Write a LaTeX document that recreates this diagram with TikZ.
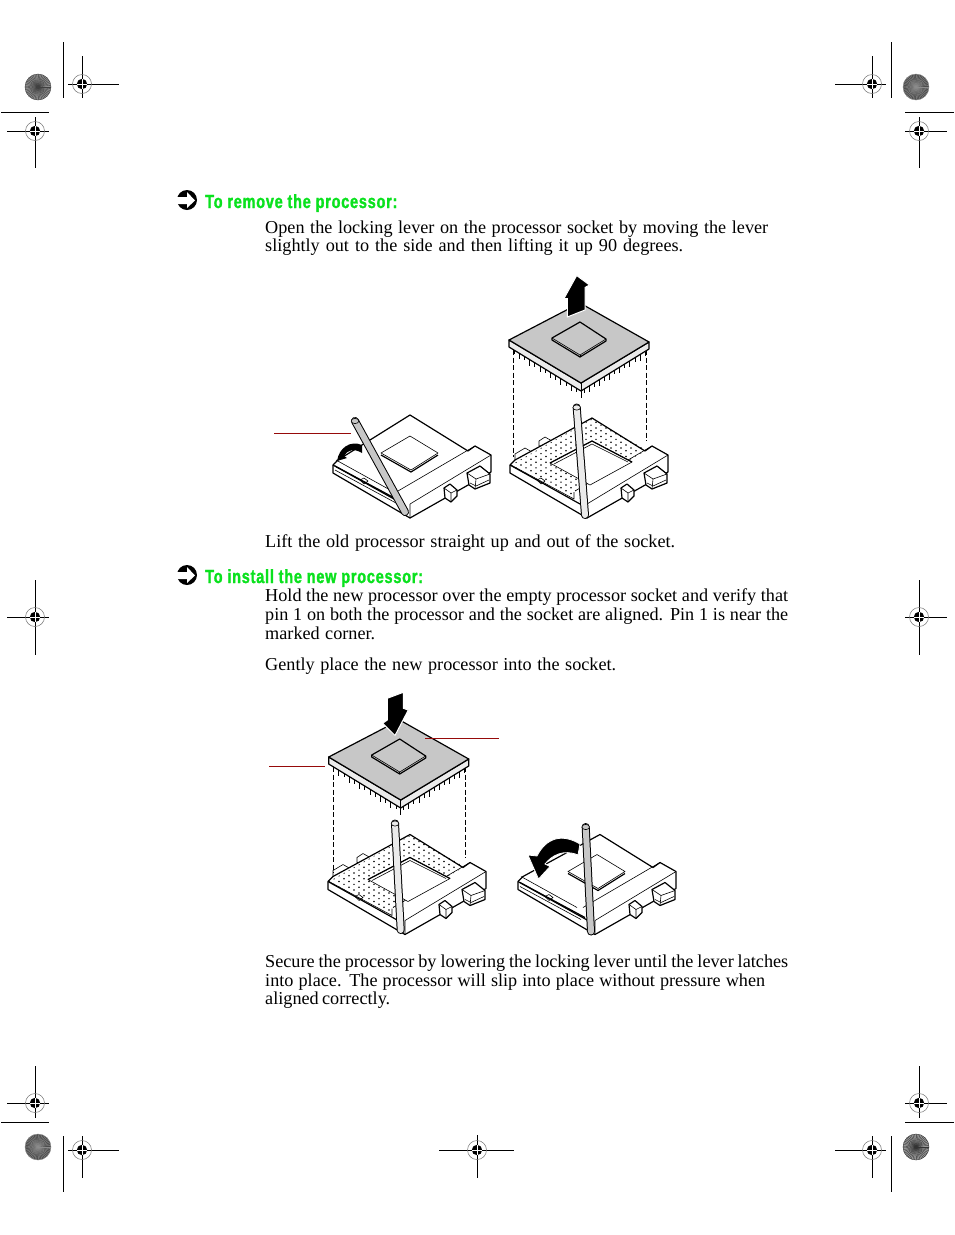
\documentclass[tikz,border=0pt]{standalone}
\usepackage{fontspec}
\setmainfont{Liberation Serif}
\newfontfamily\headfont[FakeStretch=0.76,LetterSpace=4.2,FakeBold=1.5]{Liberation Sans Bold}
\usepackage{xcolor}
\usetikzlibrary{positioning}
\definecolor{headgreen}{RGB}{10,225,30}
\definecolor{leadred}{RGB}{150,10,10}
\definecolor{platefill}{gray}{0.78}
\tikzstyle{bodyline} = [anchor=base west, inner sep=0pt, font=\fontsize{18.2}{18}\selectfont]
\tikzstyle{headline} = [anchor=base west, inner sep=0pt, text=headgreen, font=\headfont\fontsize{19}{18}\selectfont]
\tikzstyle{heavy} = [draw, line width=1.2pt, line join=round]
\tikzstyle{fine} = [draw, line width=0.6pt, line join=round]
\tikzstyle{pinline} = [draw, line width=0.9pt]
\tikzstyle{guide} = [draw, line width=0.7pt, dash pattern=on 5pt off 2.5pt]
\tikzstyle{leader} = [draw=leadred, line width=0.7pt]
\tikzstyle{cropline} = [draw, line width=0.9pt]
\tikzstyle{bigarrow} = [fill=black, draw=white, line width=1pt]
\tikzstyle{cogwheel} = [draw=black, line width=0.35pt]
\newcommand{\apex}{5,-100}
\tikzset{
  socketbody/.pic={
    \draw[heavy, fill=white] (-77,-53) -- (-77,-45) -- (0,0) -- (81,-46) -- (81,-63)
      -- (65,-72) -- (58,-67) -- (\apex) -- (-72,-58) -- cycle;
    \draw[fine] (0,-14) -- (81,-63) (0,-14) -- (0,0);
    \draw[fine] (-12,-27) -- (65,-72);
    \draw[heavy] (-77,-53) -- (-7,-14);
    \draw[fine] (-50,-38) -- (-46,-40) -- (-42,-37) -- (-46,-34) -- cycle;
    % Clips on the side
    \draw[heavy, fill=white] (34,-30) -- (40,-34) -- (47,-28) -- (47,-22) -- (41,-16) -- (35,-20) -- cycle;
    \draw[fine] (34,-30) -- (41,-25) -- (47,-28) (41,-25) -- (41,-16);
    \draw[heavy, fill=white] (57,-45) -- (70,-52) -- (80,-44) -- (80,-35) -- (65,-29) -- (59,-33) -- cycle;
    \draw[fine] (57,-45) -- (66,-39) -- (80,-44) (66,-39) -- (65,-29);
    \draw[fine] (60,-35) -- (66,-32) -- (79,-38);
  },
  backtabs/.pic={
    \draw[fine, fill=white] (-72,-56) -- (-72,-64) -- (-62,-70) -- (-55,-66) -- (-55,-60) -- cycle;
    \draw[fine, fill=white] (-48,-72) -- (-48,-77) -- (-42,-81) -- (-35,-77) -- (-35,-72) -- cycle;
  },
  holefield/.pic={
    \begin{scope}
      \clip (-76,-53) -- (5,-99) -- (60,-68) -- (-13,-26) -- (-13,-19) -- cycle;
      \foreach \i in {0,...,18} \foreach \j in {0,...,18}
        \fill ({-76+\i*5+\j*5},{-53-\i*2.85+\j*2.85}) circle (0.85pt);
    \end{scope}
    \draw[fine, fill=white] (5,-77) -- (45,-56) -- (3,-33) -- (-37,-55) -- cycle;
    \draw[heavy] (-37,-55) -- (5,-77) -- (45,-56);
    \draw[fine] (-33,-54) -- (5,-74) -- (41,-56);
    \draw[fine] (-76,-53) -- (-13,-19) -- (-13,-26);
  },
  plainstrip/.pic={
    \draw[fine] (-74,-58) -- (-18,-27);
    \draw[heavy] (-75,-52) -- (-10,-17);
    \draw[fine] (-75,-48) -- (-14,-15);
  },
  chipsquare/.pic={
    \draw[heavy] (-29,-63) -- (1,-46) -- (28,-63);
    \draw[fine, fill=white] (-29,-65) -- (0,-82) -- (28,-65) -- (1,-48) -- cycle;
  },
  cpuplate/.pic={
    % Pins below the two front edges
    \foreach \i in {0,...,12} {
      \draw[pinline] ({-67+\i*5.2},{-41+\i*3.2}) -- ++(0,{4+2*mod(\i,2)});
      \draw[pinline] ({3+\i*5.1},{-2-\i*3.1}) -- ++(0,{4+2*mod(\i,2)});
    }
    \draw[pinline] (0,0) -- (0,7);
    \draw[heavy, fill=black!8] (-72,-51) -- (-72,-44) -- (0,0) -- (68,-42) -- (68,-49) -- (0,-8) -- cycle;
    \draw[heavy, fill=platefill] (-72,-51) -- (-1,-88) -- (68,-49) -- (0,-8) -- cycle;
    \draw[fine] (0,-8) -- (0,0);
    % Small square on top
    \draw[heavy, fill=platefill] (-29,-51) -- (-1,-34) -- (25,-50) -- (25,-52) -- (-1,-69) -- (-29,-53) -- cycle;
    \draw[fine] (-29,-53) -- (-1,-36) -- (25,-52);
    \draw[fine] (-1,-36) -- (-1,-34);
  },
  regmark/.pic={
    \draw[line width=0.5pt, black!55] (0,0) circle (9.5pt);
    \fill (0,0) circle (5.2pt);
    \draw[white, line width=0.45pt] (-5.2,0) -- (5.2,0) (0,-5.2) -- (0,5.2);
  },
}
\newcommand{\leverbar}[5]{% top x, top y, bottom x, bottom y, colour
  \draw[line width=8pt, line cap=round] (#1,#2) -- (#3,#4);
  \draw[line width=6pt, #5, line cap=round] (#1,#2) -- (#3,#4);
  \draw[fine, fill=#5] (#1,#2) ellipse (3.8pt and 2.6pt);
}
\newcommand{\sunburst}[4]{% x, y, fill, ray colour
  \fill[#3] (#1,#2) circle (13pt);
  \foreach \a in {0,8,...,352}
    \draw[cogwheel, draw=#4] (#1,#2) -- ++(\a:13pt);
  \draw[line width=0.4pt, #4] (#1,#2) circle (13pt);
  \fill[#4] (#1,#2) circle (1.2pt);
}
\newcommand{\fitline}[2]{\makebox[#1pt][s]{#2}}
\begin{document}
\begin{tikzpicture}[x=1pt, y=-1pt]
  \useasboundingbox (0,0) rectangle (954,1235);
  % Place nodes
  \node [headline] (headremove) at (205,208) {To remove the processor:};
  \node [bodyline] (openlinea) at (265,233) {\fitline{503}{Open the locking lever on the processor socket by moving the lever}};
  \node [bodyline] (openlineb) at (265,251) {\fitline{418}{slightly out to the side and then lifting it up 90 degrees.}};
  \node [bodyline] (liftline) at (265,547) {\fitline{410}{Lift the old processor straight up and out of the socket.}};
  \node [headline] (headinstall) at (205,583) {To install the new processor:};
  \node [bodyline] (holdlinea) at (265,601) {\fitline{523}{Hold the new processor over the empty processor socket and verify that}};
  \node [bodyline] (holdlineb) at (265,620) {\fitline{523}{pin 1 on both the processor and the socket are aligned. Pin 1 is near the}};
  \node [bodyline] (holdlinec) at (265,639) {\fitline{110}{marked corner.}};
  \node [bodyline] (gentlyline) at (265,670) {\fitline{351}{Gently place the new processor into the socket.}};
  \node [bodyline] (securelinea) at (265,967) {\fitline{523}{Secure the processor by lowering the locking lever until the lever latches}};
  \node [bodyline] (securelineb) at (265,986) {\fitline{500}{into place. The processor will slip into place without pressure when}};
  \node [bodyline] (securelinec) at (265,1004) {\fitline{125}{aligned correctly.}};

  % Heading bullets
  \foreach \hy in {200,575} {
    \fill (187,\hy) circle (10pt);
    \fill[white] (177,\hy-3) -- (187,\hy-3) -- (187,\hy-8) -- (195,\hy+0.5) -- (187,\hy+8) -- (187,\hy+4) -- (177,\hy+4) -- cycle;
  }

  % Printer marks
  \foreach \cx/\cy/\xa/\xb/\ya/\yb in {82/84/68/119/56/98, 35/131/7/49/117/168,
      872/84/835/886/56/98, 919/131/905/947/117/168,
      35/617/7/49/580/655, 919/617/905/947/580/655,
      35/1103/7/49/1066/1118, 82/1150/68/119/1136/1178,
      919/1103/905/947/1066/1118, 872/1150/835/886/1136/1178,
      477/1150/439/514/1135/1178} {
    \draw[cropline] (\xa,\cy) -- (\xb,\cy);
    \draw[cropline] (\cx,\ya) -- (\cx,\yb);
    \pic at (\cx,\cy) {regmark};
  }
  \foreach \cx/\ya/\yb in {63/42/98, 891/42/98, 63/1136/1192, 891/1136/1192}
    \draw[cropline] (\cx,\ya) -- (\cx,\yb);
  \foreach \xa/\xb/\cy in {1/49/112, 905/954/112, 1/49/1122, 905/954/1122}
    \draw[cropline] (\xa,\cy) -- (\xb,\cy);
  \sunburst{38}{87}{black!45}{black!75}
  \sunburst{916}{87}{black!70}{black!45}
  \sunburst{38}{1147}{black!70}{black!45}
  \sunburst{916}{1147}{black!40}{black!80}

  % Top row, closed socket
  \renewcommand{\apex}{0,-103}
  \pic at (410,518) {socketbody};
  \pic at (410,518) {plainstrip};
  \pic at (410,518) {chipsquare};
  \coordinate (liftstart) at (274,433.5);
  \coordinate (liftend) at (351,433.5);
  \path[leader] (liftstart) -- (liftend);
  \fill (337,461) .. controls (339,448) and (350,440) .. (362,445) -- (362,453)
    .. controls (354,448) and (347,450) .. (344,456) -- (347,458) -- cycle;
  \leverbar{355}{421}{405}{512}{black!22}

  % Top row, open socket and processor
  \renewcommand{\apex}{5,-100}
  \pic at (587,518) {backtabs};
  \pic at (587,518) {socketbody};
  \pic at (587,518) {holefield};
  \leverbar{576.7}{407.5}{585}{515}{black!8}
  \coordinate (guidetopa) at (513.5,350);
  \coordinate (guidebota) at (513.5,457);
  \coordinate (guidetopb) at (646.5,350);
  \coordinate (guidebotb) at (646.5,441);
  \path[guide] (guidetopa) -- (guidebota);
  \path[guide] (guidetopb) -- (guidebotb);
  \pic at (581,391) {cpuplate};
  \draw[bigarrow] (576.7,275.5) -- (589.5,285) -- (585,287.5) -- (585,310) -- (567.3,317)
    -- (567.3,298.5) -- (564,298.5) -- cycle;

  % Bottom row, open socket and processor
  \pic at (405,934.5) {backtabs};
  \pic at (405,934.5) {socketbody};
  \pic at (405,934.5) {holefield};
  \leverbar{395}{823.5}{400.7}{930}{black!8}
  \coordinate (guidetopc) at (333.5,767);
  \coordinate (guidebotc) at (333.5,873);
  \coordinate (guidetopd) at (465.7,767);
  \coordinate (guidebotd) at (465.7,858);
  \path[guide] (guidetopc) -- (guidebotc);
  \path[guide] (guidetopd) -- (guidebotd);
  \pic at (400.7,808) {cpuplate};
  \draw[bigarrow] (395,735.5) -- (382.7,723.3) -- (387.3,720) -- (387.3,698.3) -- (403.3,692.3)
    -- (403.3,708.3) -- (408.3,710) -- cycle;
  \coordinate (markstarta) at (269,766);
  \coordinate (markenda) at (325,766);
  \coordinate (markstartb) at (425,738);
  \coordinate (markendb) at (499,738);
  \path[leader] (markstarta) -- (markenda);
  \path[leader] (markstartb) -- (markendb);

  % Bottom row, closed socket
  \pic at (595,934.5) {socketbody};
  \pic at (595,934.5) {plainstrip};
  \pic at (597,936.5) {chipsquare};
  \draw[fill=black, draw=white, line width=0.8pt] (580,844) .. controls (562,833) and (546,838) .. (537,856)
    -- (528,855) -- (538.5,879) -- (550,866.5) -- (545,864)
    .. controls (552,855) and (564,849) .. (578,855) -- cycle;
  \leverbar{585.7}{827}{591}{931.5}{black!22}
\end{tikzpicture}
\end{document}
